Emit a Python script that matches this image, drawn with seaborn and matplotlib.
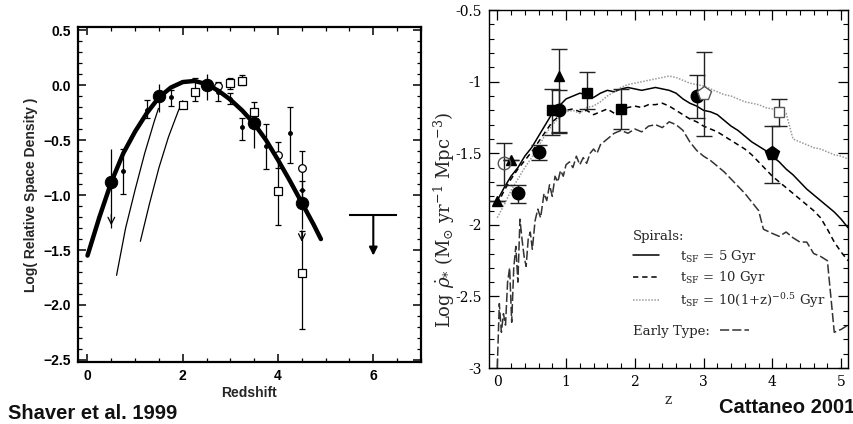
import numpy as np
import matplotlib
matplotlib.use("Agg")
import matplotlib.pyplot as plt
import seaborn as sns
from matplotlib.ticker import MultipleLocator

sns.set_theme(style="ticks")
plt.rcParams["font.family"] = ["Liberation Sans", "DejaVu Sans"]
plt.rcParams["mathtext.fontset"] = "dejavuserif"

# ---------------- left panel data (Shaver et al. 1999) ----------------
curve_z = [0, 0.25, 0.5, 0.75, 1.0, 1.25, 1.5, 1.75, 2.0, 2.25, 2.5, 2.75,
           3.0, 3.25, 3.5, 3.75, 4.0, 4.25, 4.5, 4.75, 4.9]
curve_y = [-1.55, -1.2, -0.88, -0.62, -0.42, -0.25, -0.11, -0.02, 0.03, 0.04,
           0.01, -0.05, -0.13, -0.23, -0.35, -0.5, -0.68, -0.87, -1.07, -1.27, -1.4]

thin1_z = [0.61, 0.8, 1.0, 1.2, 1.4, 1.49]
thin1_y = [-1.73, -1.3, -0.95, -0.62, -0.33, -0.21]
thin2_z = [1.11, 1.3, 1.5, 1.7, 1.9, 2.0]
thin2_y = [-1.42, -1.08, -0.75, -0.47, -0.24, -0.14]

big_z = [0.5, 1.5, 2.5, 3.5, 4.5]
big_y = [-0.88, -0.10, 0.0, -0.34, -1.07]
big_hi = [-0.58, 0.01, 0.10, -0.20, -0.95]
big_lo = [-1.30, -0.24, -0.13, -0.57, -1.31]

sm_z = [0.75, 1.25, 1.75, 2.75, 3.0, 3.25, 3.75, 4.25, 4.5]
sm_y = [-0.78, -0.22, -0.11, -0.06, -0.12, -0.38, -0.55, -0.43, -0.95]
sm_hi = [-0.58, -0.13, -0.04, 0.0, -0.07, -0.30, -0.35, -0.20, -0.87]
sm_lo = [-0.99, -0.30, -0.19, -0.14, -0.17, -0.50, -0.76, -0.71, -1.05]

sq_z = [2.0, 2.25, 3.0, 3.25, 3.5, 4.0, 4.5]
sq_y = [-0.18, -0.06, 0.02, 0.04, -0.24, -0.96, -1.71]
sq_hi = [-0.15, 0.07, 0.07, 0.09, -0.15, -0.65, -1.33]
sq_lo = [-0.21, -0.14, -0.03, 0.0, -0.30, -1.27, -2.22]

oc_z = [2.75, 4.0, 4.5]
oc_y = [-0.01, -0.63, -0.75]
oc_hi = [0.03, -0.52, -0.60]
oc_lo = [-0.05, -0.75, -0.95]

arrow_z = [0.5, 4.5]
arrow_tip = [-1.30, -1.45]

lim_z, lim_y, lim_tip, lim_half = 6.0, -1.18, -1.55, 0.5

left_xticks = [0, 2, 4, 6]
left_yticks = [0.5, 0.0, -0.5, -1.0, -1.5, -2.0, -2.5]

# ---------------- right panel data (Cattaneo 2001) ----------------
grid_z = [0.0, 0.1, 0.2, 0.3, 0.4, 0.5, 0.6, 0.7, 0.8, 0.9, 1.0, 1.1, 1.2, 1.3,
          1.4, 1.5, 1.6, 1.7, 1.8, 1.9, 2.0, 2.1, 2.2, 2.3, 2.4, 2.5, 2.6, 2.7,
          2.8, 2.9, 3.0, 3.1, 3.2, 3.3, 3.4, 3.5, 3.6, 3.7, 3.8, 3.9, 4.0, 4.1,
          4.2, 4.3, 4.4, 4.5, 4.6, 4.7, 4.8, 4.9, 5.0, 5.1]
sfr_5gyr = [-1.83, -1.74, -1.66, -1.60, -1.52, -1.46, -1.38, -1.30, -1.22, -1.17,
            -1.12, -1.10, -1.08, -1.09, -1.11, -1.08, -1.06, -1.07, -1.05, -1.04,
            -1.05, -1.06, -1.05, -1.04, -1.05, -1.06, -1.08, -1.12, -1.15, -1.17,
            -1.20, -1.21, -1.23, -1.27, -1.31, -1.34, -1.38, -1.42, -1.45, -1.48,
            -1.52, -1.56, -1.61, -1.65, -1.70, -1.75, -1.79, -1.83, -1.87, -1.91,
            -1.96, -2.02]
sfr_10gyr = [-1.86, -1.76, -1.68, -1.61, -1.55, -1.49, -1.42, -1.35, -1.28, -1.24,
             -1.20, -1.19, -1.21, -1.20, -1.23, -1.21, -1.19, -1.22, -1.20, -1.18,
             -1.17, -1.18, -1.16, -1.16, -1.15, -1.17, -1.20, -1.23, -1.26, -1.28,
             -1.31, -1.33, -1.35, -1.38, -1.41, -1.44, -1.47, -1.51, -1.56, -1.61,
             -1.66, -1.70, -1.74, -1.78, -1.82, -1.86, -1.90, -1.95, -2.03, -2.12,
             -2.19, -2.25]
sfr_var = [-1.95, -1.86, -1.76, -1.68, -1.60, -1.53, -1.45, -1.37, -1.30, -1.25,
           -1.21, -1.20, -1.22, -1.18, -1.17, -1.14, -1.10, -1.07, -1.04, -1.02,
           -1.01, -1.00, -0.99, -0.98, -0.97, -0.96, -0.97, -0.99, -1.01, -1.02,
           -1.03, -1.05, -1.07, -1.09, -1.10, -1.12, -1.14, -1.15, -1.16, -1.18,
           -1.19, -1.21, -1.22, -1.40, -1.42, -1.44, -1.46, -1.47, -1.49, -1.51,
           -1.52, -1.54]

early_z = [0.00, 0.03, 0.06, 0.09, 0.12, 0.15, 0.18, 0.21, 0.24, 0.27, 0.30, 0.33,
           0.36, 0.39, 0.42, 0.45, 0.48, 0.51, 0.55, 0.59, 0.63, 0.68, 0.72, 0.76,
           0.80, 0.84, 0.88, 0.92, 0.96, 1.00, 1.05, 1.10, 1.15, 1.20, 1.25, 1.30,
           1.35, 1.40, 1.45, 1.50, 1.60, 1.70, 1.80, 1.90, 2.00, 2.10, 2.20, 2.30,
           2.40, 2.50, 2.60, 2.70, 2.80, 2.90, 3.00, 3.10, 3.20, 3.30, 3.40, 3.50,
           3.60, 3.70, 3.80, 3.87, 4.00, 4.10, 4.20, 4.30, 4.40, 4.50, 4.60, 4.70,
           4.80, 4.85, 4.90, 5.00, 5.10]
early_y = [-3.00, -2.55, -2.75, -2.62, -2.70, -2.40, -2.30, -2.68, -2.30, -2.15,
           -2.40, -1.96, -2.10, -2.22, -2.29, -2.10, -2.05, -2.17, -1.97, -1.89,
           -1.95, -1.78, -1.83, -1.72, -1.80, -1.66, -1.70, -1.62, -1.66, -1.58,
           -1.56, -1.60, -1.52, -1.58, -1.53, -1.57, -1.50, -1.47, -1.50, -1.44,
           -1.40, -1.36, -1.34, -1.36, -1.33, -1.35, -1.31, -1.30, -1.32, -1.28,
           -1.30, -1.34, -1.42, -1.48, -1.52, -1.55, -1.59, -1.63, -1.68, -1.73,
           -1.78, -1.84, -1.90, -2.03, -2.06, -2.08, -2.05, -2.09, -2.12, -2.12,
           -2.20, -2.22, -2.25, -2.50, -2.75, -2.73, -2.70]

tri_z, tri_y = [0.0, 0.2, 0.9], [-1.83, -1.55, -0.96]
tri_hi, tri_lo = [-1.83, -1.55, -0.77], [-1.83, -1.55, -1.36]
fc_z, fc_y = [0.3, 0.6, 0.9, 2.9], [-1.78, -1.49, -1.20, -1.10]
fc_hi, fc_lo = [-1.72, -1.44, -1.06, -0.95], [-1.85, -1.55, -1.35, -1.25]
fsq_z, fsq_y = [0.8, 1.3, 1.8], [-1.20, -1.08, -1.19]
fsq_hi, fsq_lo = [-1.05, -0.93, -1.05], [-1.37, -1.19, -1.33]
ocir_z, ocir_y, ocir_hi, ocir_lo = [0.1], [-1.57], [-1.43], [-1.72]
opent_z, opent_y, opent_hi, opent_lo = [3.0], [-1.08], [-0.79], [-1.38]
fpent_z, fpent_y, fpent_hi, fpent_lo = [4.0], [-1.50], [-1.31], [-1.71]
osq_z, osq_y, osq_hi, osq_lo = [4.1], [-1.21], [-1.12], [-1.31]

right_yticks = [-0.5, -1, -1.5, -2, -2.5, -3]


def yerr(y, hi, lo):
    y = np.asarray(y)
    return [y - np.asarray(lo), np.asarray(hi) - y]


fig = plt.figure(figsize=(8.54, 4.24), dpi=100)
axL = fig.add_axes([0.0913, 0.146, 0.4016, 0.790])
axR = fig.add_axes([0.5726, 0.132, 0.4204, 0.844])

# ---------------- left panel ----------------
sns.lineplot(x=curve_z, y=curve_y, ax=axL, color="black", lw=3.2, sort=False, zorder=3)
sns.lineplot(x=thin1_z, y=thin1_y, ax=axL, color="black", lw=0.9, sort=False)
sns.lineplot(x=thin2_z, y=thin2_y, ax=axL, color="black", lw=0.9, sort=False)

eb = dict(ecolor="black", elinewidth=0.9, capsize=2, capthick=0.9, zorder=2)
axL.errorbar(sm_z, sm_y, yerr=yerr(sm_y, sm_hi, sm_lo), fmt="o", ms=2.5,
             color="black", **eb)
axL.errorbar(sq_z, sq_y, yerr=yerr(sq_y, sq_hi, sq_lo), fmt="s", ms=5.5,
             mfc="white", mec="black", mew=0.9, **eb)
axL.errorbar(oc_z, oc_y, yerr=yerr(oc_y, oc_hi, oc_lo), fmt="o", ms=5.5,
             mfc="white", mec="black", mew=0.9, **eb)
axL.errorbar(big_z, big_y, yerr=yerr(big_y, big_hi, big_lo), fmt="none",
             ecolor="black", elinewidth=0.9, capsize=0, zorder=2)
sns.scatterplot(x=big_z, y=big_y, ax=axL, s=80, color="black", edgecolor="black",
                zorder=4)
for z, tip in zip(arrow_z, arrow_tip):
    axL.annotate("", xy=(z, tip), xytext=(z, tip + 0.15),
                 arrowprops=dict(arrowstyle="->", color="black", lw=0.9,
                                 mutation_scale=12))
axL.hlines(lim_y, lim_z - lim_half, lim_z + lim_half, color="black", lw=1.5)
axL.annotate("", xy=(lim_z, lim_tip), xytext=(lim_z, lim_y),
             arrowprops=dict(arrowstyle="-|>", color="black", lw=1.5,
                             mutation_scale=12, shrinkA=0, shrinkB=0))

axL.set_xlim(-0.2, 7.0)
axL.set_ylim(-2.52, 0.53)
axL.set_xticks(left_xticks)
axL.set_xticklabels([str(t) for t in left_xticks], fontweight="bold", fontsize=10)
axL.set_yticks(left_yticks)
axL.set_yticklabels([f"{t:.1f}".replace("-", "\u2212") for t in left_yticks],
                    fontweight="bold", fontsize=10)
axL.xaxis.set_minor_locator(MultipleLocator(0.5))
axL.yaxis.set_minor_locator(MultipleLocator(0.1))
axL.tick_params(which="both", direction="in", top=True, right=True, colors="black")
axL.tick_params(which="major", length=6, width=1.1, pad=5)
axL.tick_params(which="minor", length=3, width=0.9)
for s in axL.spines.values():
    s.set_linewidth(1.6)
    s.set_color("black")
axL.set_xlabel("Redshift", fontweight="bold", fontsize=10, labelpad=2)
axL.set_ylabel("Log( Relative Space Density )", fontweight="bold", fontsize=10,
               labelpad=4)

# ---------------- right panel ----------------
serif = ["DejaVu Serif"]
l5 = sns.lineplot(x=grid_z, y=sfr_5gyr, ax=axR, color="black", lw=1.1,
                  sort=False).lines[-1]
l10 = sns.lineplot(x=grid_z, y=sfr_10gyr, ax=axR, color="black", lw=1.1,
                   sort=False).lines[-1]
l10.set_dashes([3.5, 2.5])
lvar = sns.lineplot(x=grid_z, y=sfr_var, ax=axR, color="#9a9a9a", lw=1.1,
                    sort=False).lines[-1]
lvar.set_dashes([1, 1])
learly = sns.lineplot(x=early_z, y=early_y, ax=axR, color="#333333", lw=1.1,
                      sort=False).lines[-1]
learly.set_dashes([6, 2])

ebr = dict(ecolor="#222222", elinewidth=1.0, capsize=6, capthick=1.0, zorder=3)
axR.errorbar(fsq_z, fsq_y, yerr=yerr(fsq_y, fsq_hi, fsq_lo), fmt="s", ms=6.5,
             color="black", **ebr)
axR.errorbar(fc_z, fc_y, yerr=yerr(fc_y, fc_hi, fc_lo), fmt="o", ms=9,
             color="black", **ebr)
axR.errorbar(tri_z, tri_y, yerr=yerr(tri_y, tri_hi, tri_lo), fmt="^", ms=7.5,
             color="black", **ebr)
axR.errorbar(ocir_z, ocir_y, yerr=yerr(ocir_y, ocir_hi, ocir_lo), fmt="o", ms=9,
             mfc="none", mec="#555555", mew=1.0, **ebr)
axR.errorbar(opent_z, opent_y, yerr=yerr(opent_y, opent_hi, opent_lo), fmt="p",
             ms=10, mfc="white", mec="#555555", mew=1.0, **ebr)
axR.errorbar(fpent_z, fpent_y, yerr=yerr(fpent_y, fpent_hi, fpent_lo), fmt="p",
             ms=10, color="black", **ebr)
axR.errorbar(osq_z, osq_y, yerr=yerr(osq_y, osq_hi, osq_lo), fmt="s", ms=7,
             mfc="white", mec="#555555", mew=1.0, **ebr)

axR.set_xlim(-0.12, 5.1)
axR.set_ylim(-3.0, -0.5)
axR.set_yticks(right_yticks)
axR.set_yticklabels([f"{t:g}" for t in right_yticks], fontfamily=serif, fontsize=10)
axR.set_xticks(range(6))
axR.set_xticklabels([str(t) for t in range(6)], fontfamily=serif, fontsize=10)
axR.xaxis.set_minor_locator(MultipleLocator(0.2))
axR.yaxis.set_minor_locator(MultipleLocator(0.1))
axR.tick_params(which="both", direction="in", top=True, right=True, colors="black")
axR.tick_params(which="major", length=7, width=0.9, pad=5)
axR.tick_params(which="minor", length=3.5, width=0.8)
for s in axR.spines.values():
    s.set_linewidth(1.0)
    s.set_color("black")
axR.set_xlabel("z", fontfamily=serif, fontsize=10, labelpad=3)
axR.set_ylabel(r"Log $\dot{\rho}_{*}$ (M$_{\odot}$ yr$^{-1}$ Mpc$^{-3}$)",
               fontfamily=serif, fontsize=13)
axR.yaxis.set_label_coords(-0.088, 0.413)

prop = dict(family=serif, size=9.5)
leg1 = axR.legend(handles=[l5, l10, lvar],
                  labels=[r"t$_{\rm SF}$ = 5 Gyr", r"t$_{\rm SF}$ = 10 Gyr",
                          r"t$_{\rm SF}$ = 10(1+z)$^{-0.5}$ Gyr"],
                  title="Spirals:", title_fontproperties=prop, prop=prop,
                  alignment="left", loc="upper left", bbox_to_anchor=(0.40, 0.385),
                  frameon=False, handlelength=2.0, handletextpad=1.6,
                  labelspacing=0.35, borderpad=0, borderaxespad=0)
leg2 = axR.legend(handles=[learly], labels=["Early Type:"], markerfirst=False,
                  prop=prop, loc="upper left", bbox_to_anchor=(0.40, 0.12),
                  frameon=False, handlelength=2.2, handletextpad=0.8,
                  borderpad=0, borderaxespad=0)
axR.add_artist(leg1)

fig.text(0.009, 0.012, "Shaver et al. 1999", fontsize=14.5, fontweight="bold",
         color="#111111")
fig.text(0.842, 0.026, "Cattaneo 2001", fontsize=14.5, fontweight="bold",
         color="#111111")

fig.savefig("out.png", dpi=100, facecolor="white")
